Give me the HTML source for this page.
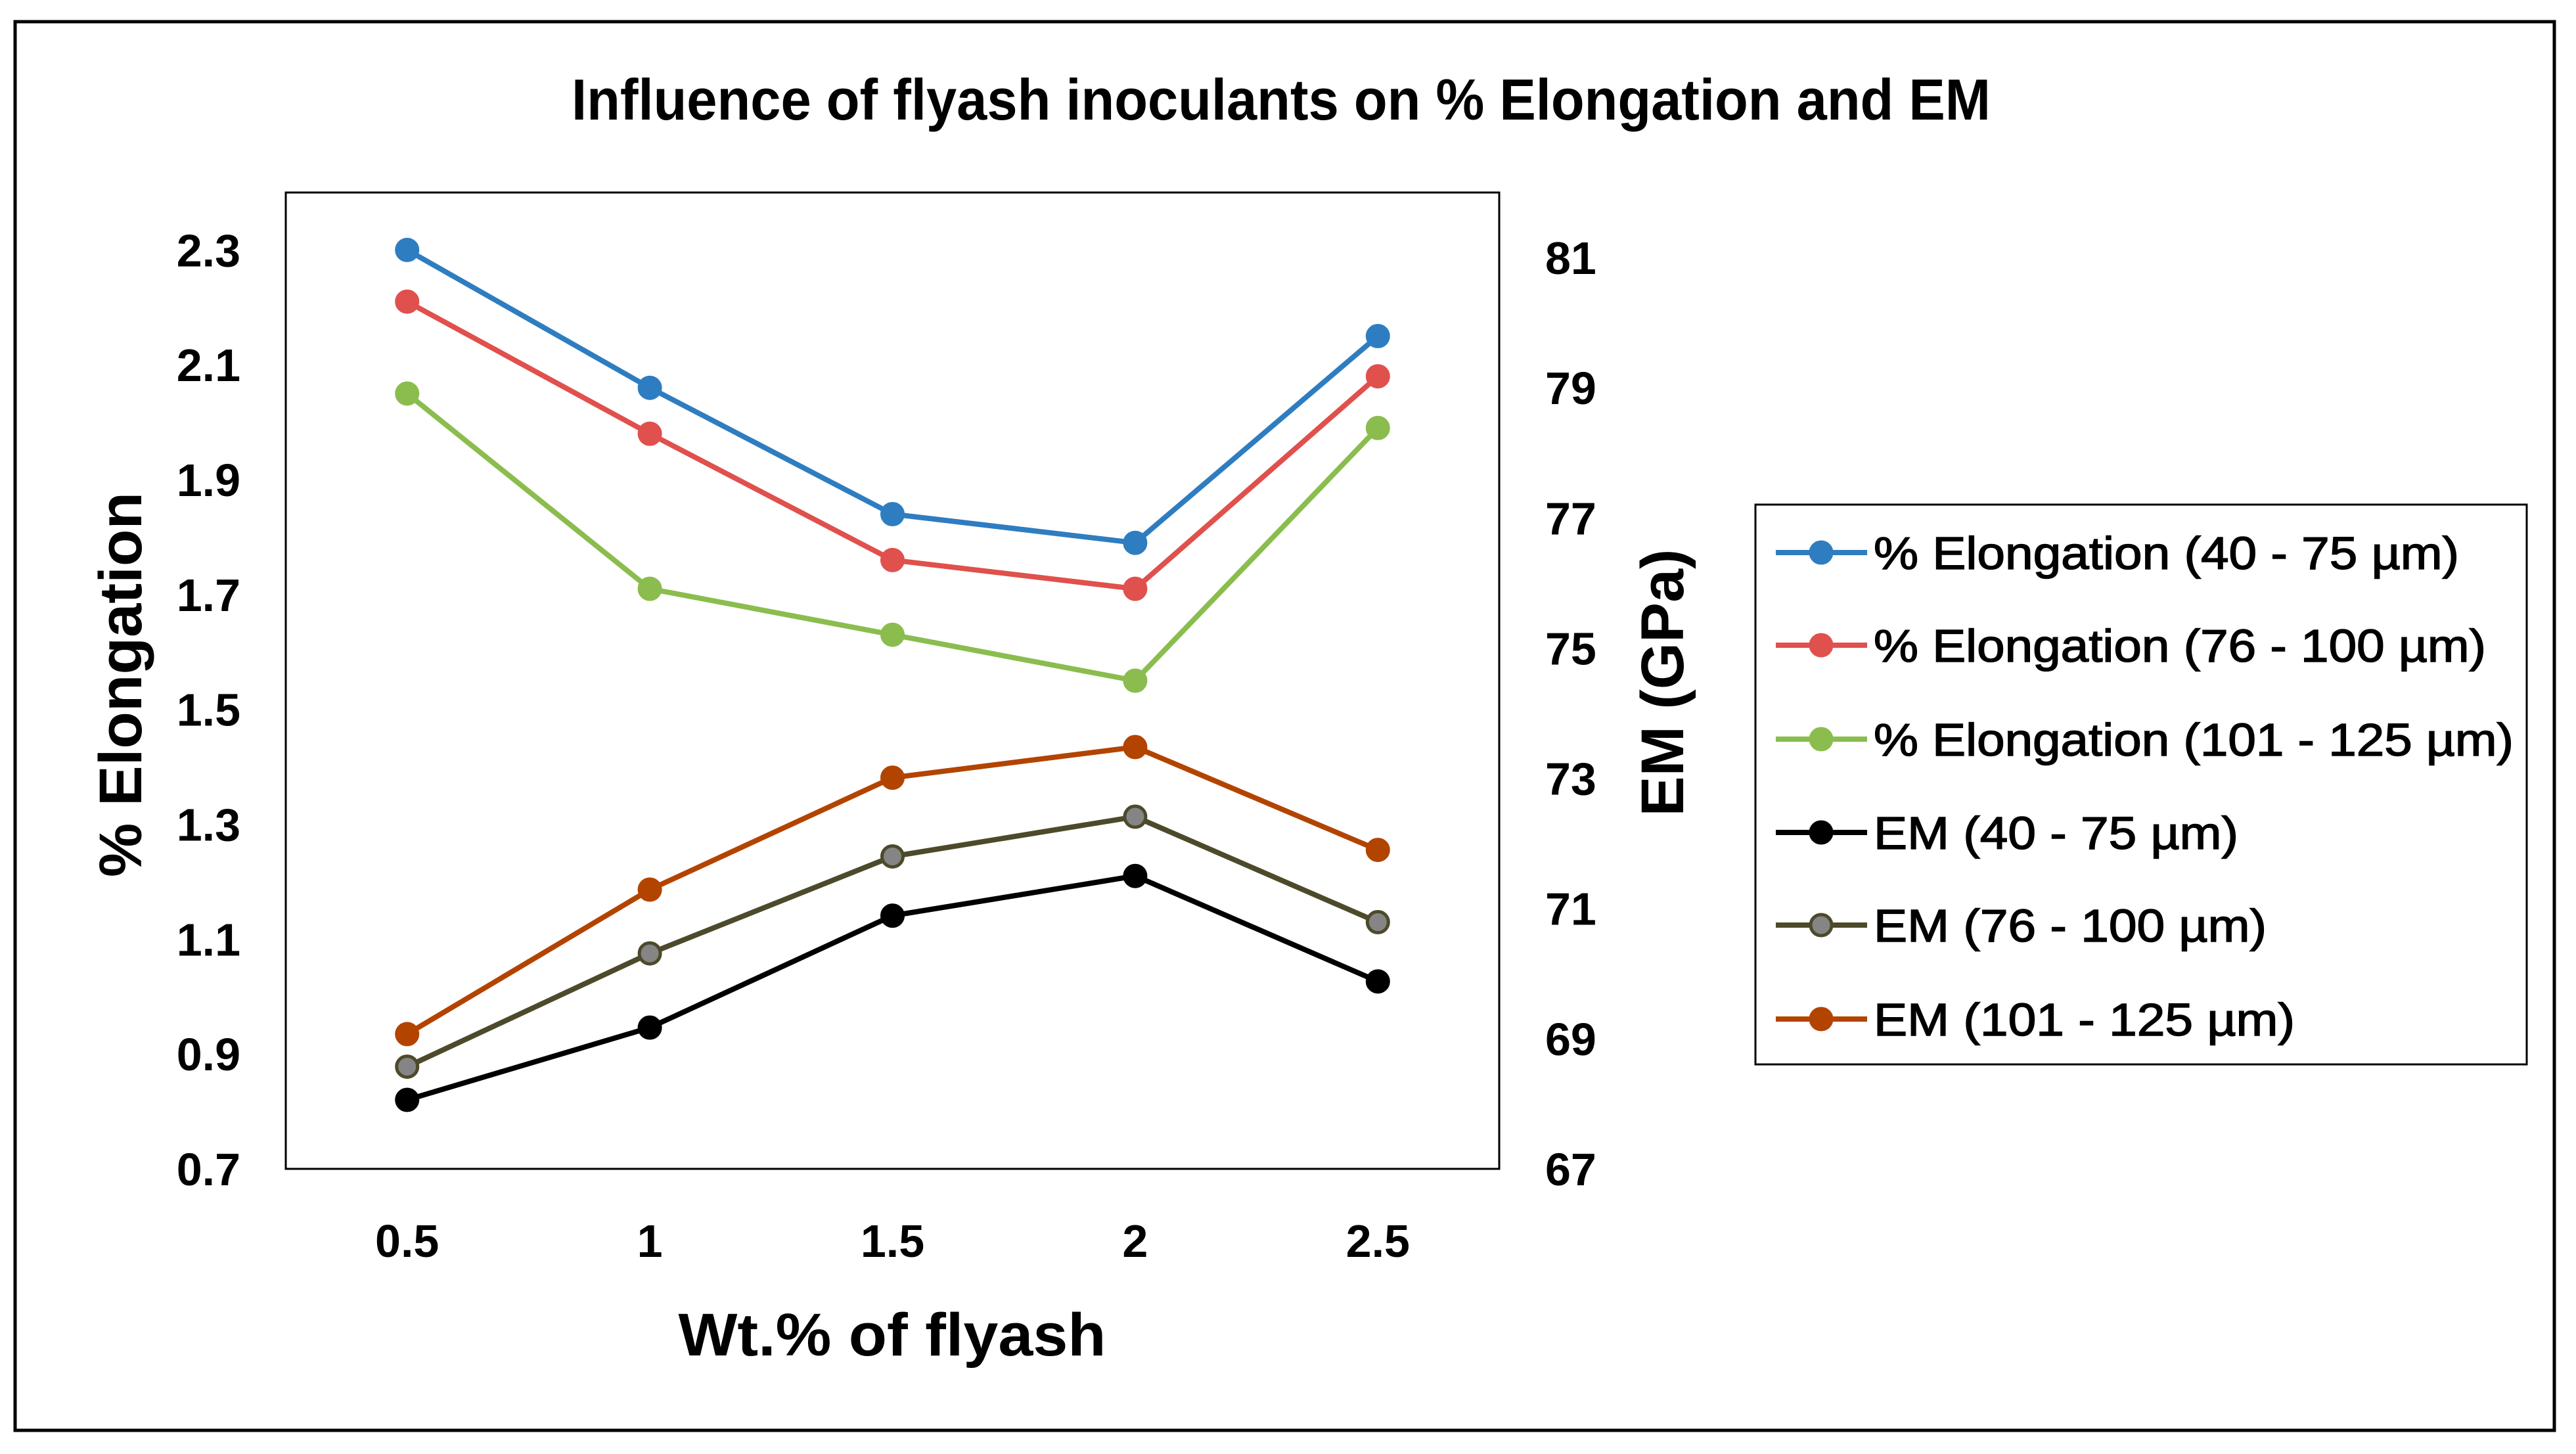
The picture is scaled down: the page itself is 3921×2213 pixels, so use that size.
<!DOCTYPE html>
<html><head><meta charset="utf-8"><style>
html,body{margin:0;padding:0;background:#fff;}
svg{display:block;font-family:"Liberation Sans",sans-serif;}
</style></head><body>
<svg id="chart" width="3921" height="2213" viewBox="0 0 3921 2213" xmlns="http://www.w3.org/2000/svg">
<rect x="23" y="33" width="3865" height="2144" fill="#fff" stroke="#000" stroke-width="5"/>
<text x="1950" y="182" text-anchor="middle" font-size="88" font-weight="bold" textLength="2160" lengthAdjust="spacingAndGlyphs">Influence of flyash inoculants on % Elongation and EM</text>
<rect x="435" y="293" width="1847" height="1486" fill="none" stroke="#000" stroke-width="3"/>
<g id="xticks"></g><g id="ylticks"></g><g id="yrticks"></g><g id="series"></g>
<text x="1358" y="2063" text-anchor="middle" font-size="92" font-weight="bold" textLength="651" lengthAdjust="spacingAndGlyphs">Wt.% of flyash</text>
<text transform="translate(215,1042) rotate(-90)" text-anchor="middle" font-size="92" font-weight="bold" textLength="586" lengthAdjust="spacingAndGlyphs">% Elongation</text>
<text transform="translate(2562,1039) rotate(-90)" text-anchor="middle" font-size="92" font-weight="bold" textLength="407" lengthAdjust="spacingAndGlyphs">EM (GPa)</text>
<rect x="2672" y="768" width="1174" height="852" fill="#fff" stroke="#000" stroke-width="3"/>
<g id="legend"></g>
</svg>
<script>
const categories = ["0.5","1","1.5","2","2.5"];
const leftTicks = [0.7,0.9,1.1,1.3,1.5,1.7,1.9,2.1,2.3];
const rightTicks = [67,69,71,73,75,77,79,81];
const elong40 = [2.30,2.06,1.84,1.79,2.15];
const elong76 = [2.21,1.98,1.76,1.71,2.08];
const elong101 = [2.05,1.71,1.63,1.55,1.99];
const em40 = [68.06,69.17,70.89,71.50,69.88];
const em76 = [68.57,70.31,71.80,72.41,70.79];
const em101 = [69.07,71.29,73.01,73.48,71.90];
const seriesNames = ["% Elongation (40 - 75 µm)","% Elongation (76 - 100 µm)","% Elongation (101 - 125 µm)","EM (40 - 75 µm)","EM (76 - 100 µm)","EM (101 - 125 µm)"];

const NS="http://www.w3.org/2000/svg";
const PL=435,PR=2282,PT=293,PB=1779;
const xs=i=>PL+(PR-PL)/categories.length*(i+0.5);
const yL=v=>PB-(v-0.7)/(2.4-0.7)*(PB-PT);
const yR=v=>PB-(v-67)/(82-67)*(PB-PT);
function mk(tag,attrs,parent,txt){const e=document.createElementNS(NS,tag);for(const k in attrs)e.setAttribute(k,attrs[k]);if(txt!==undefined)e.textContent=txt;parent.appendChild(e);return e;}
const gx=document.getElementById('xticks');
categories.forEach((c,i)=>{const t=mk('text',{x:xs(i),y:1913,'text-anchor':'middle','font-size':70,'font-weight':'bold'},gx,c);

});
const gl=document.getElementById('ylticks');
leftTicks.forEach(v=>{const t=mk('text',{x:366,y:yL(v)+25,'text-anchor':'end','font-size':70,'font-weight':'bold'},gl,v.toFixed(1));

});
const gr=document.getElementById('yrticks');
rightTicks.forEach(v=>{const t=mk('text',{x:2352,y:yR(v)+25,'font-size':70,'font-weight':'bold'},gr,String(v));

});
const defs=[
 {d:elong40,ax:yL,line:'#2E7DC0',fill:'#2E7DC0',name:'series-elongation-40-75'},
 {d:elong76,ax:yL,line:'#E0504D',fill:'#E0504D',name:'series-elongation-76-100'},
 {d:elong101,ax:yL,line:'#8BBD4E',fill:'#8BBD4E',name:'series-elongation-101-125'},
 {d:em40,ax:yR,line:'#000000',fill:'#000000',name:'series-em-40-75'},
 {d:em76,ax:yR,line:'#4D4A2B',fill:'#858585',name:'series-em-76-100'},
 {d:em101,ax:yR,line:'#B34400',fill:'#B34400',name:'series-em-101-125'}];
const gs=document.getElementById('series');
defs.forEach(s=>{
 const g=mk('g',{},gs);
 
 
 const pts=s.d.map((v,i)=>xs(i)+','+s.ax(v)).join(' ');
 const pl=mk('polyline',{points:pts,fill:'none',stroke:s.line,'stroke-width':8,'stroke-linejoin':'round'},g);
 
 
 s.d.forEach((v,i)=>{const c=mk('circle',{cx:xs(i),cy:s.ax(v),r:16,fill:s.fill,stroke:s.line,'stroke-width':5},g);
 
 });
});
const lg=document.getElementById('legend');
const ly=[841,982,1125,1267,1408,1551];
const legendLen=[891,932,974,555,598,641];
defs.forEach((s,i)=>{
 const g=mk('g',{},lg);
 
 
 mk('line',{x1:2703,x2:2842,y1:ly[i],y2:ly[i],stroke:s.line,'stroke-width':8},g);
 mk('circle',{cx:2772,cy:ly[i],r:16,fill:s.fill,stroke:s.line,'stroke-width':5},g);
 mk('text',{x:2852,y:ly[i]+25,'font-size':70,stroke:'#000','stroke-width':1.5,textLength:legendLen[i],lengthAdjust:'spacingAndGlyphs'},g,seriesNames[i]);
});
</script>
</body></html>
